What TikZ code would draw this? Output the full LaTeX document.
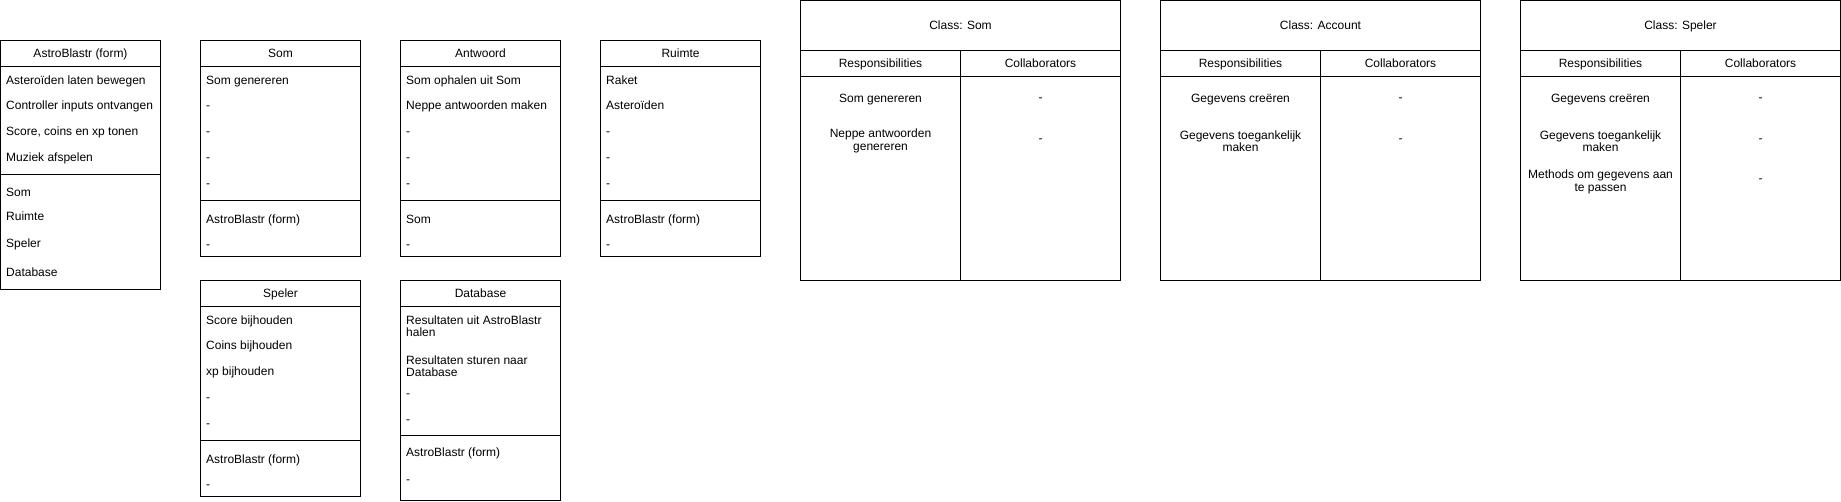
\documentclass[tikz,border=0pt]{standalone}
\usepackage{fontspec}
\setmainfont{Liberation Sans}
\newcommand{\fs}{\fontsize{12}{12.5}\selectfont}
\tikzset{
  box/.style={draw, line width=1pt, inner sep=0pt, outer sep=0pt, anchor=north west},
  sep/.style={line width=1pt},
  txt/.style={anchor=mid west, inner sep=0pt, font=\fs, yshift=-1.2pt},
  hdr/.style={anchor=mid, inner sep=0pt, font=\fs, yshift=-1.2pt},
  crc/.style={anchor=center, inner sep=0pt, font=\fs, align=center},
}
\begin{document}
\begin{tikzpicture}[x=1pt, y=-1pt]
\useasboundingbox (0,0) rectangle (1841,501);

% ---------- AstroBlastr (form)
\node[box, minimum width=160pt, minimum height=249.5pt] (astro) at (0.5,40) {};
\draw[sep] (0.5,66) -- (160.5,66);
\draw[sep] (0.5,174) -- (160.5,174);
\node[hdr] (astroH) at (80.5,53.5) {AstroBlastr (form)};
\node[txt] (astro1) at (6,80.7) {Asteroïden laten bewegen};
\node[txt] (astro2) at (6,106) {Controller inputs ontvangen};
\node[txt] (astro3) at (6,131.7) {Score, coins en xp tonen};
\node[txt] (astro4) at (6,157.7) {Muziek afspelen};
\node[txt] (astro5) at (6,192.7) {Som};
\node[txt] (astro6) at (6,217) {Ruimte};
\node[txt] (astro7) at (6,243.3) {Speler};
\node[txt] (astro8) at (6,272.7) {Database};

% ---------- Som
\node[box, minimum width=160pt, minimum height=216.7pt] (som) at (200.5,40) {};
\draw[sep] (200.5,66) -- (360.5,66);
\draw[sep] (200.5,200) -- (360.5,200);
\node[hdr] (somH) at (280.5,53.5) {Som};
\node[txt] (som1) at (206,80.7) {Som genereren};
\node[txt] (som2) at (206,106) {-};
\node[txt] (som3) at (206,131.7) {-};
\node[txt] (som4) at (206,157.7) {-};
\node[txt] (som5) at (206,183.3) {-};
\node[txt] (som6) at (206,219.3) {AstroBlastr (form)};
\node[txt] (som7) at (206,245) {-};

% ---------- Antwoord
\node[box, minimum width=160pt, minimum height=216.7pt] (antw) at (400.5,40) {};
\draw[sep] (400.5,66) -- (560.5,66);
\draw[sep] (400.5,200) -- (560.5,200);
\node[hdr] (antwH) at (480.5,53.5) {Antwoord};
\node[txt] (antw1) at (406,80.7) {Som ophalen uit Som};
\node[txt] (antw2) at (406,106) {Neppe antwoorden maken};
\node[txt] (antw3) at (406,131.7) {-};
\node[txt] (antw4) at (406,157.7) {-};
\node[txt] (antw5) at (406,183.3) {-};
\node[txt] (antw6) at (406,219.3) {Som};
\node[txt] (antw7) at (406,245) {-};

% ---------- Ruimte
\node[box, minimum width=160pt, minimum height=216.7pt] (ruim) at (600.5,40) {};
\draw[sep] (600.5,66) -- (760.5,66);
\draw[sep] (600.5,200) -- (760.5,200);
\node[hdr] (ruimH) at (680.5,53.5) {Ruimte};
\node[txt] (ruim1) at (606,80.7) {Raket};
\node[txt] (ruim2) at (606,106) {Asteroïden};
\node[txt] (ruim3) at (606,131.7) {-};
\node[txt] (ruim4) at (606,157.7) {-};
\node[txt] (ruim5) at (606,183.3) {-};
\node[txt] (ruim6) at (606,219.3) {AstroBlastr (form)};
\node[txt] (ruim7) at (606,245) {-};

% ---------- Speler
\node[box, minimum width=160pt, minimum height=216.7pt] (spel) at (200.5,280) {};
\draw[sep] (200.5,306) -- (360.5,306);
\draw[sep] (200.5,440) -- (360.5,440);
\node[hdr] (spelH) at (280.5,293.5) {Speler};
\node[txt] (spel1) at (206,320.7) {Score bijhouden};
\node[txt] (spel2) at (206,346) {Coins bijhouden};
\node[txt] (spel3) at (206,371.7) {xp bijhouden};
\node[txt] (spel4) at (206,397.7) {-};
\node[txt] (spel5) at (206,423.3) {-};
\node[txt] (spel6) at (206,459.3) {AstroBlastr (form)};
\node[txt] (spel7) at (206,485) {-};

% ---------- Database
\node[box, minimum width=160pt, minimum height=220pt] (db) at (400.5,280) {};
\draw[sep] (400.5,306) -- (560.5,306);
\draw[sep] (400.5,435.7) -- (560.5,435.7);
\node[hdr] (dbH) at (480.5,293.5) {Database};
\node[inner sep=0pt, font=\fs, align=left, anchor=north west] (db1) at (406,315.5) {Resultaten uit AstroBlastr\\halen};
\node[inner sep=0pt, font=\fs, align=left, anchor=north west] (db2) at (406,355.5) {Resultaten sturen naar\\Database};
\node[txt] (db3) at (406,394) {-};
\node[txt] (db4) at (406,420) {-};
\node[txt] (db5) at (406,452.7) {AstroBlastr (form)};
\node[txt] (db6) at (406,480) {-};

% ---------- CRC cards
% Class: Som
\node[box, minimum width=320pt, minimum height=279.5pt] (crcA) at (800.5,0.5) {};
\draw[sep] (800.5,50.5) -- (1120.5,50.5);
\draw[sep] (800.5,76.5) -- (1120.5,76.5);
\draw[sep] (960.5,50.5) -- (960.5,280);
\node[hdr] (crcAt) at (960.5,25.5) {Class: Som};
\node[hdr] (crcAr) at (880.5,63.5) {Responsibilities};
\node[hdr] (crcAc) at (1040.5,63.5) {Collaborators};
\node[crc] (crcA1) at (880.5,99.5) {Som genereren};
\node[crc] (crcA1c) at (1040.5,99.5) {-};
\node[crc] (crcA2) at (880.5,141) {Neppe antwoorden\\genereren};
\node[crc] (crcA2c) at (1040.5,141) {-};

% Class: Account
\node[box, minimum width=320pt, minimum height=279.5pt] (crcB) at (1160.5,0.5) {};
\draw[sep] (1160.5,50.5) -- (1480.5,50.5);
\draw[sep] (1160.5,76.5) -- (1480.5,76.5);
\draw[sep] (1320.5,50.5) -- (1320.5,280);
\node[hdr] (crcBt) at (1320.5,25.5) {Class: Account};
\node[hdr] (crcBr) at (1240.5,63.5) {Responsibilities};
\node[hdr] (crcBc) at (1400.5,63.5) {Collaborators};
\node[crc] (crcB1) at (1240.5,99.5) {Gegevens creëren};
\node[crc] (crcB1c) at (1400.5,99.5) {-};
\node[crc] (crcB2) at (1240.5,141) {Gegevens toegankelijk\\maken};
\node[crc] (crcB2c) at (1400.5,141) {-};

% Class: Speler
\node[box, minimum width=320pt, minimum height=279.5pt] (crcC) at (1520.5,0.5) {};
\draw[sep] (1520.5,50.5) -- (1840.5,50.5);
\draw[sep] (1520.5,76.5) -- (1840.5,76.5);
\draw[sep] (1680.5,50.5) -- (1680.5,280);
\node[hdr] (crcCt) at (1680.5,25.5) {Class: Speler};
\node[hdr] (crcCr) at (1600.5,63.5) {Responsibilities};
\node[hdr] (crcCc) at (1760.5,63.5) {Collaborators};
\node[crc] (crcC1) at (1600.5,99.5) {Gegevens creëren};
\node[crc] (crcC1c) at (1760.5,99.5) {-};
\node[crc] (crcC2) at (1600.5,141) {Gegevens toegankelijk\\maken};
\node[crc] (crcC2c) at (1760.5,141) {-};
\node[crc] (crcC3) at (1600.5,181.7) {Methods om gegevens aan\\te passen};
\node[crc] (crcC3c) at (1760.5,181) {-};
\end{tikzpicture}
\end{document}
